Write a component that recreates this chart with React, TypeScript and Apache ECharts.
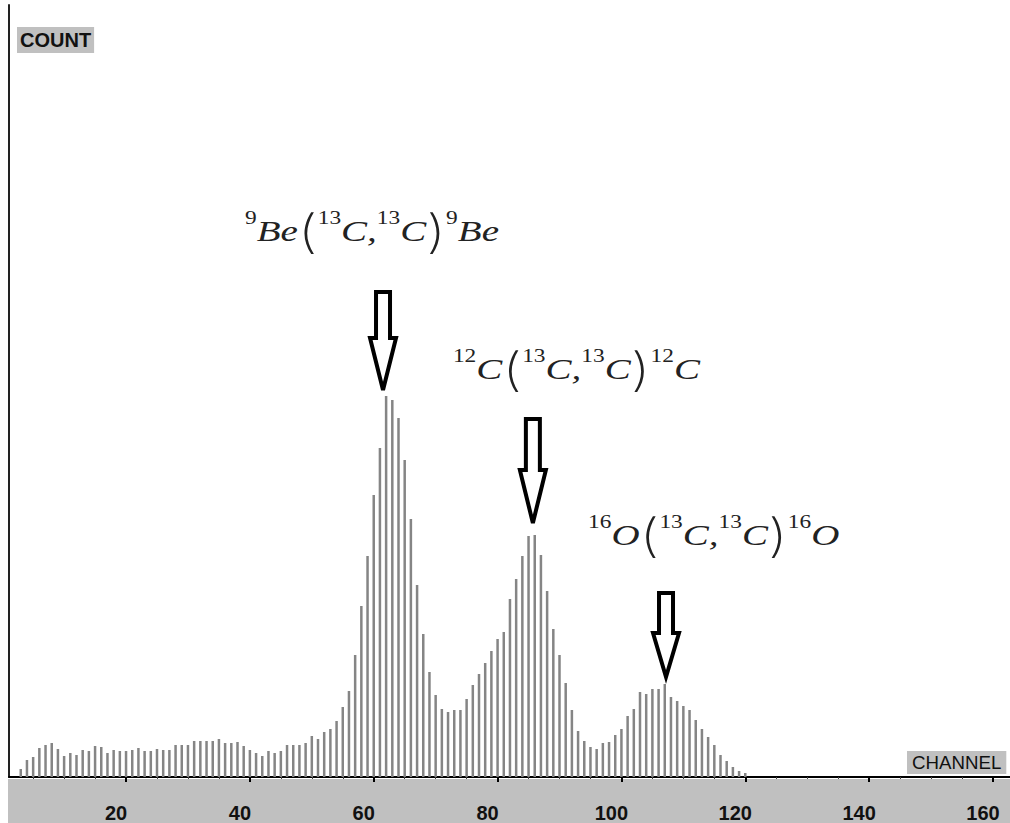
import React, { useEffect, useRef } from "react";
import * as echarts from "echarts";

// ---- data ----
const firstChannel = 3;
const counts = [
  8, 17, 20, 29, 32, 34, 28, 21, 24, 22, 27, 26, 31, 30, 24, 27, 26, 26, 27, 29,
  26, 26, 28, 27, 27, 32, 32, 32, 36, 36, 36, 36, 38, 34, 34, 35, 31, 27, 24, 21,
  26, 24, 26, 32, 32, 32, 34, 41, 38, 45, 48, 56, 70, 86, 122, 171, 221, 282, 329, 381,
  377, 359, 317, 258, 192, 143, 105, 82, 68, 65, 67, 67, 78, 92, 103, 114, 126, 138, 145, 178,
  198, 221, 241, 242, 222, 186, 148, 122, 94, 67, 46, 36, 30, 28, 34, 35, 42, 48, 61, 68,
  85, 83, 88, 88, 93, 80, 76, 71, 67, 57, 48, 40, 32, 22, 16, 10, 6, 4,
];
const channels = counts.map((_, i) => firstChannel + i);
const majorTicks = [20, 40, 60, 80, 100, 120, 140, 160];
const minorTicks = [5, 10, 15, 25, 30, 35, 45, 50, 55, 65, 70, 75, 85, 90, 95, 105, 110, 115, 125, 130, 135, 145, 150, 155];
const yTitle = "COUNT";
const xTitle = "CHANNEL";

const annotationTexts = [
  "{sup|9}{main|Be}{par|(}{sup|13}{main|C,}{sup|13}{main|C}{par|)}{sup|9}{main|Be}",
  "{sup|12}{main|C}{par|(}{sup|13}{main|C,}{sup|13}{main|C}{par|)}{sup|12}{main|C}",
  "{sup|16}{main|O}{par|(}{sup|13}{main|C,}{sup|13}{main|C}{par|)}{sup|16}{main|O}",
];
const arrowTipChannel = [61.5, 85.7, 107.2];
const arrowTipCount = [387, 254, 100];

// ---- layout (pixels) ----
const annotationLayout = [
  { dx: -138, dy: -159, shaftTop: 98, headLen: 52 },
  { dx: -80, dy: -154, shaftTop: 104, headLen: 53 },
  { dx: -78, dy: -142, shaftTop: 84, headLen: 44 },
];

export default function App() {
  const ref = useRef<HTMLDivElement>(null);

  useEffect(() => {
    if (!ref.current) return;
    document.documentElement.style.overflow = "hidden";
    document.body.style.overflow = "hidden";
    document.body.style.margin = "0";
    const chart = echarts.init(ref.current, null, { renderer: "svg", width: 1010, height: 823 });
    const option: any = {
      animation: false,
      backgroundColor: "#ffffff",
      grid: { left: 9, right: 0, top: 5, bottom: 46, containLabel: false, outerBoundsMode: "none" },
      xAxis: [
        {
          type: "value",
          min: 1.1,
          max: 162.75,
          position: "bottom",
          axisLine: { show: true, onZero: false, lineStyle: { color: "#000", width: 2 } },
          axisTick: { show: true, customValues: majorTicks, length: 5, lineStyle: { color: "#000", width: 2 } },
          axisLabel: {
            show: true,
            customValues: majorTicks,
            margin: 26,
            padding: [0, 20, 0, 0],
            fontSize: 20,
            lineHeight: 20,
            fontWeight: "bold",
            fontFamily: "Liberation Sans",
            color: "#111",
          },
          splitLine: { show: false },
        },
        {
          type: "value",
          min: 1.1,
          max: 162.75,
          position: "bottom",
          axisLine: { show: false },
          axisTick: { show: true, customValues: minorTicks, length: 2, lineStyle: { color: "#444", width: 1 } },
          axisLabel: { show: false },
          splitLine: { show: false },
        },
      ],
      yAxis: {
        type: "value",
        min: 0,
        max: 772,
        axisLine: { show: true, lineStyle: { color: "#222", width: 2 } },
        axisTick: { show: false },
        axisLabel: { show: false },
        splitLine: { show: false },
      },
      series: [
        {
          type: "bar",
          xAxisIndex: 0,
          yAxisIndex: 0,
          barWidth: 2.5,
          itemStyle: { color: "#858585" },
          data: channels.map((c, i) => [c, counts[i]]),
        },
      ],
    };
    chart.setOption(option);

    const graphics: any[] = [
      {
        type: "rect",
        z: -1,
        shape: { x: 8, y: 779, width: 1002, height: 44 },
        style: { fill: "#c0c0c0" },
      },
      {
        type: "text",
        x: 17,
        y: 27,
        style: {
          text: yTitle,
          fontSize: 20,
          lineHeight: 20,
          fontWeight: "bold",
          fontFamily: "Liberation Sans",
          fill: "#111",
          backgroundColor: "#c0c0c0",
          padding: [3, 3, 3, 3],
        },
      },
      {
        type: "text",
        x: 907,
        y: 751,
        style: {
          text: xTitle,
          fontSize: 18.7,
          lineHeight: 17,
          fontFamily: "Liberation Sans",
          fill: "#111",
          backgroundColor: "#c0c0c0",
          padding: [3, 5, 3, 5],
        },
      },
    ];

    annotationTexts.forEach((t, i) => {
      const tip = chart.convertToPixel({ xAxisIndex: 0, yAxisIndex: 0 }, [arrowTipChannel[i], arrowTipCount[i]]) as number[];
      const L = annotationLayout[i];
      const tx = tip[0];
      const ty = tip[1];
      const sw = 7;
      const hw = 13;
      const headY = ty - L.headLen;
      graphics.push({
        type: "polygon",
        shape: {
          points: [
            [tx - sw, ty - L.shaftTop],
            [tx + sw, ty - L.shaftTop],
            [tx + sw, headY],
            [tx + hw, headY],
            [tx, ty],
            [tx - hw, headY],
            [tx - sw, headY],
          ],
        },
        style: { fill: "#fff", stroke: "#000", lineWidth: 4, lineJoin: "miter" },
      });
      graphics.push({
        type: "text",
        x: tx + L.dx,
        y: ty + L.dy,
        scaleX: 1.3,
        style: {
          text: t,
          x: 0,
          y: 0,
          align: "left",
          verticalAlign: "middle",
          fill: "#222",
          rich: {
            main: { fontFamily: "Liberation Serif", fontStyle: "italic", fontSize: 30, lineHeight: 30, verticalAlign: "middle", fill: "#222" },
            sup: { fontFamily: "Liberation Serif", fontSize: 18, lineHeight: 18, verticalAlign: "top", fill: "#222" },
            par: { fontFamily: "Inter", fontWeight: 200, fontSize: 46, lineHeight: 44, verticalAlign: "middle", fill: "#222" },
          },
        },
      });
    });

    chart.setOption({ graphic: graphics });

    return () => {
      chart.dispose();
    };
  }, []);

  return (
    <div
      ref={ref}
      style={{ position: "absolute", left: 0, top: 0, width: 1010, height: 823 }}
    />
  );
}
